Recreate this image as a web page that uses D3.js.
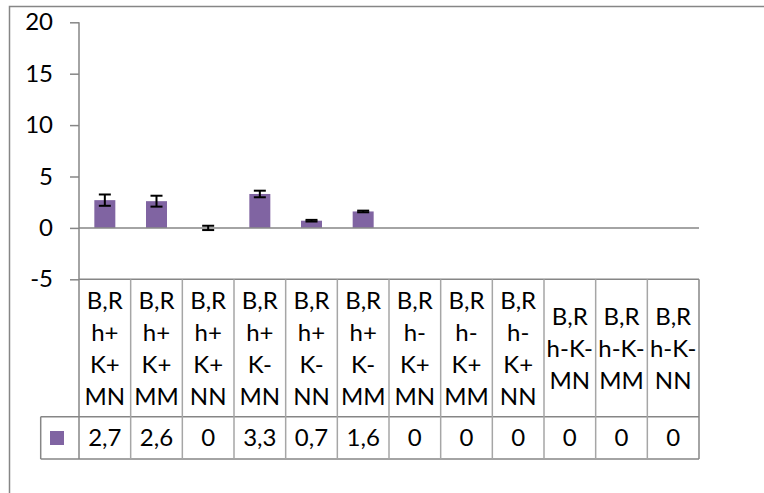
<!DOCTYPE html>
<html>
<head>
<meta charset="utf-8">
<script src="https://cdn.jsdelivr.net/npm/d3@7"></script>
<style>
  html, body { margin: 0; padding: 0; background: #fff; }
  svg { display: block; }
  text { font-family: Lato, "Open Sans", sans-serif; fill: #000; }
</style>
</head>
<body>
<svg id="chart" width="764" height="493"></svg>
<script>
// ---- data ----
const categories = [
  "B,R h+ K+ MN", "B,R h+ K+ MM", "B,R h+ K+ NN",
  "B,R h+ K- MN", "B,R h+ K- NN", "B,R h+ K- MM",
  "B,R h- K+ MN", "B,R h- K+ MM", "B,R h- K+ NN",
  "B,R h-K- MN", "B,R h-K- MM", "B,R h-K- NN"
];
const values = [2.7, 2.6, 0, 3.3, 0.7, 1.6, 0, 0, 0, 0, 0, 0];
const valueLabels = ["2,7", "2,6", "0", "3,3", "0,7", "1,6", "0", "0", "0", "0", "0", "0"];
const errors = [0.55, 0.53, 0.21, 0.32, 0.08, 0.08, 0, 0, 0, 0, 0, 0];
const yTicks = [-5, 0, 5, 10, 15, 20];

// ---- layout ----
const svg = d3.select("#chart");
const plotLeft = 79, plotRight = 699, plotTop = 22.3, plotBottom = 279.3;
const headerBottom = 416.7, tableBottom = 459, legendLeft = 40.7;
const gridColor = "#868686";
const barColor = "#8064A2";
const fontSize = 24;
const fontFam = "Lato, 'Open Sans', sans-serif";

// outer chart border (extends beyond the picture on right/bottom)
svg.append("rect")
  .attr("x", 9.5).attr("y", 6.5)
  .attr("width", 800).attr("height", 600)
  .attr("fill", "none").attr("stroke", gridColor).attr("stroke-width", 1.5);

const x = d3.scaleBand().domain(categories).range([plotLeft, plotRight]).paddingInner(0).paddingOuter(0);
const y = d3.scaleLinear().domain([-5, 20]).range([plotBottom, plotTop]);

// y axis
const yAxis = d3.axisLeft(y).tickValues(yTicks).tickSize(9).tickPadding(17).tickFormat(d => String(d));
const gy = svg.append("g").attr("transform", `translate(${plotLeft},0)`).call(yAxis);
gy.attr("font-size", null).attr("font-family", null);
gy.select(".domain").remove();
gy.selectAll(".tick line").attr("stroke", gridColor).attr("stroke-width", 1.5);
gy.selectAll(".tick text").attr("font-size", fontSize).attr("font-family", fontFam).attr("fill", "#000");

// vertical axis line down through the table
svg.append("line")
  .attr("x1", plotLeft).attr("x2", plotLeft)
  .attr("y1", plotTop).attr("y2", tableBottom)
  .attr("stroke", gridColor).attr("stroke-width", 1.5);

// bars
const bw = 21;
svg.append("g").selectAll("rect").data(values).join("rect")
  .attr("x", (d, i) => x(categories[i]) + x.bandwidth() / 2 - bw / 2)
  .attr("width", bw)
  .attr("y", d => y(Math.max(0, d)))
  .attr("height", d => Math.abs(y(d) - y(0)))
  .attr("fill", barColor);

// zero line
svg.append("line")
  .attr("x1", plotLeft).attr("x2", plotRight)
  .attr("y1", y(0)).attr("y2", y(0))
  .attr("stroke", gridColor).attr("stroke-width", 1.5);

// error bars
const capW = 12;
const eg = svg.append("g").attr("stroke", "#000").attr("stroke-width", 2);
values.forEach((v, i) => {
  if (i > 5) return;
  const cx = x(categories[i]) + x.bandwidth() / 2;
  const e = errors[i];
  eg.append("line").attr("x1", cx).attr("x2", cx).attr("y1", y(v + e)).attr("y2", y(v - e));
  eg.append("line").attr("x1", cx - capW / 2).attr("x2", cx + capW / 2).attr("y1", y(v + e)).attr("y2", y(v + e));
  eg.append("line").attr("x1", cx - capW / 2).attr("x2", cx + capW / 2).attr("y1", y(v - e)).attr("y2", y(v - e));
});

// ---- data table ----
const tg = svg.append("g");
const lineStyle = sel => sel.attr("stroke", gridColor).attr("stroke-width", 1.5);
tg.append("line").attr("x1", plotLeft).attr("x2", plotRight).attr("y1", plotBottom).attr("y2", plotBottom).call(lineStyle);
tg.append("line").attr("x1", legendLeft).attr("x2", plotRight).attr("y1", headerBottom).attr("y2", headerBottom).call(lineStyle);
tg.append("line").attr("x1", legendLeft).attr("x2", plotRight).attr("y1", tableBottom).attr("y2", tableBottom).call(lineStyle);
tg.append("line").attr("x1", legendLeft).attr("x2", legendLeft).attr("y1", headerBottom).attr("y2", tableBottom).call(lineStyle);
categories.forEach((c, i) => {
  const xr = x(c) + x.bandwidth();
  tg.append("line").attr("x1", xr).attr("x2", xr).attr("y1", plotBottom).attr("y2", tableBottom)
    .attr("stroke", i === categories.length - 1 ? gridColor : "#a6a6a6").attr("stroke-width", 1.5);
});

// header labels
const lineH = 32;
const headerMid = (plotBottom + headerBottom) / 2;
categories.forEach(c => {
  const lines = c.split(" ");
  const cx = x(c) + x.bandwidth() / 2;
  const t = tg.append("text").attr("text-anchor", "middle").attr("font-size", fontSize);
  lines.forEach((ln, k) => {
    t.append("tspan").attr("x", cx)
      .attr("y", headerMid + (k - (lines.length - 1) / 2) * lineH)
      .attr("dy", "0.36em").text(ln);
  });
});

// values row
const valMid = (headerBottom + tableBottom) / 2;
categories.forEach((c, i) => {
  tg.append("text").attr("text-anchor", "middle").attr("font-size", fontSize)
    .attr("x", x(c) + x.bandwidth() / 2).attr("y", valMid).attr("dy", "0.36em")
    .text(valueLabels[i]);
});

// legend key
tg.append("rect").attr("x", 50).attr("y", 431).attr("width", 14).attr("height", 14).attr("fill", barColor);
</script>
</body>
</html>
